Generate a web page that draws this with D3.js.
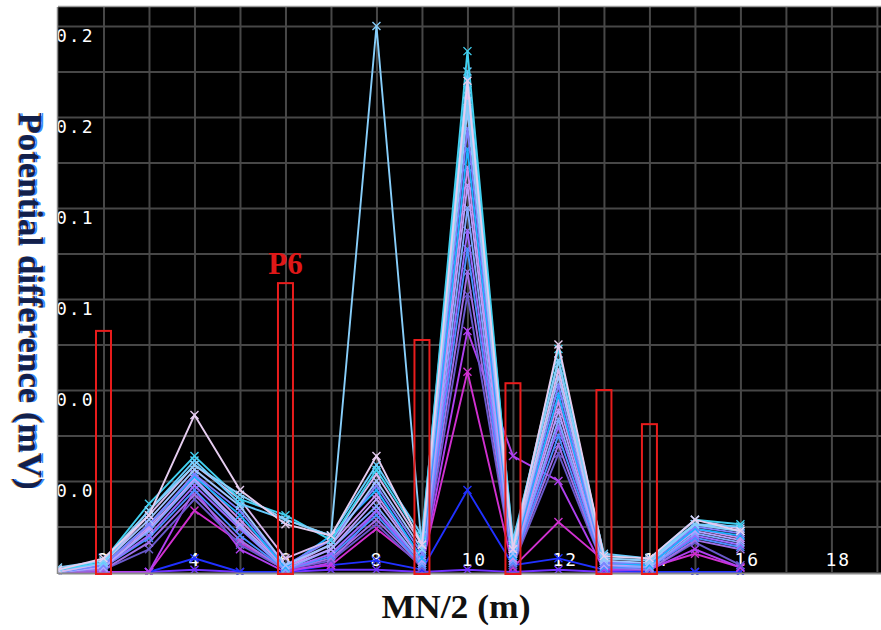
<!DOCTYPE html>
<html>
<head>
<meta charset="utf-8">
<script src="https://cdn.jsdelivr.net/npm/d3@7"></script>
<style>
  body { margin: 0; background: #fff; }
  svg { display: block; }
</style>
</head>
<body>
<svg id="chart" width="881" height="630"></svg>
<script>
// electrode spacing positions MN/2 (m)
var positions = [1, 2, 3, 4, 5, 6, 7, 8, 9, 10, 11, 12, 13, 14, 15, 16];

// potential difference curves (mV), one per sounding
var sLavender = [0.001, 0.006, 0.025, 0.069, 0.036, 0.021, 0.016, 0.051, 0.012, 0.216, 0.010, 0.100, 0.007, 0.006, 0.023, 0.018];
var sSky      = [0.002, 0.005, 0.027, 0.047, 0.034, 0.023, 0.016, 0.240, 0.010, 0.207, 0.012, 0.093, 0.006, 0.005, 0.021, 0.018];
var sCyan     = [0.001, 0.005, 0.030, 0.051, 0.032, 0.025, 0.014, 0.045, 0.014, 0.229, 0.012, 0.098, 0.007, 0.006, 0.023, 0.021];
var sLight    = [0.001, 0.004, 0.027, 0.049, 0.030, 0.023, 0.016, 0.047, 0.016, 0.220, 0.014, 0.093, 0.008, 0.006, 0.021, 0.020];
var sThistle  = [0.000, 0.004, 0.025, 0.047, 0.032, 0.006, 0.014, 0.043, 0.012, 0.212, 0.010, 0.089, 0.006, 0.005, 0.023, 0.019];
var sSteel    = [0.000, 0.004, 0.023, 0.045, 0.029, 0.003, 0.012, 0.040, 0.010, 0.203, 0.008, 0.086, 0.005, 0.004, 0.021, 0.018];
var sSlate    = [0.000, 0.003, 0.021, 0.043, 0.027, 0.003, 0.014, 0.038, 0.008, 0.195, 0.008, 0.082, 0.004, 0.004, 0.020, 0.017];
var sDeep     = [0.000, 0.003, 0.021, 0.042, 0.025, 0.002, 0.016, 0.036, 0.006, 0.186, 0.007, 0.078, 0.004, 0.003, 0.019, 0.016];
var sPlum     = [0.000, 0.003, 0.020, 0.043, 0.023, 0.002, 0.012, 0.034, 0.006, 0.178, 0.006, 0.075, 0.004, 0.003, 0.019, 0.015];
var sLilac    = [0.000, 0.002, 0.019, 0.041, 0.021, 0.002, 0.010, 0.032, 0.005, 0.170, 0.006, 0.071, 0.003, 0.003, 0.018, 0.014];
var sCorn     = [0.000, 0.002, 0.018, 0.040, 0.020, 0.001, 0.010, 0.029, 0.004, 0.160, 0.005, 0.067, 0.003, 0.002, 0.017, 0.013];
var sViolet   = [0.000, 0.002, 0.016, 0.038, 0.019, 0.001, 0.008, 0.027, 0.004, 0.150, 0.005, 0.064, 0.003, 0.002, 0.016, 0.012];
var sAzure    = [0.000, 0.002, 0.015, 0.036, 0.016, 0.001, 0.007, 0.025, 0.003, 0.142, 0.004, 0.060, 0.002, 0.002, 0.015, 0.011];
var sAmethyst = [0.000, 0.001, 0.013, 0.034, 0.014, 0.001, 0.006, 0.023, 0.003, 0.132, 0.004, 0.056, 0.002, 0.001, 0.014, 0.010];
var sIndigo   = [0.000, 0.001, 0.010, 0.032, 0.012, 0.001, 0.005, 0.021, 0.002, 0.122, 0.003, 0.052, 0.002, 0.001, 0.013, 0.003];
var sPurple   = [0.000, 0.000, 0.000, 0.036, 0.010, 0.000, 0.004, 0.027, 0.002, 0.106, 0.051, 0.040, 0.001, 0.001, 0.010, 0.002];
var sMagenta  = [0.000, 0.000, 0.000, 0.027, 0.013, 0.001, 0.003, 0.019, 0.003, 0.088, 0.002, 0.022, 0.005, 0.002, 0.008, 0.002];
var sBlue     = [0.000, 0.000, 0.000, 0.006, 0.000, 0.000, 0.003, 0.005, 0.001, 0.036, 0.003, 0.006, 0.001, 0.000, 0.000, 0.000];
var sBase     = [0.000, 0.000, 0.000, 0.001, 0.000, 0.000, 0.001, 0.001, 0.000, 0.001, 0.000, 0.001, 0.000, 0.000, 0.000, 0.000];

// drawn bottom-to-top
var series = [sBase, sBlue, sMagenta, sPurple, sIndigo, sAmethyst, sAzure, sViolet, sCorn, sLilac,
              sPlum, sDeep, sSlate, sSteel, sThistle, sLight, sCyan, sSky, sLavender];
var seriesColors = ['#7030ff', '#2030ff', '#d030d0', '#b040f0', '#6a5acd', '#a070e8', '#4a90ff', '#9b6bff', '#7fa8ff', '#b8a0ff',
                    '#c890f0', '#1eb0ff', '#8080ff', '#a0c4ff', '#d8b8f0', '#66ccff', '#40d0f0', '#87cefa', '#e6cdf0'];

// highlighted anomaly boxes
var boxX = [2, 6, 9, 11, 13, 14];
var boxTop = [0.106, 0.127, 0.102, 0.083, 0.080, 0.065];

// axis ticks
var xTicks = [2, 4, 6, 8, 10, 12, 14, 16, 18];
var yTicks = [0.04, 0.08, 0.12, 0.16, 0.20, 0.24];
var yTickLabels = ['0.0', '0.0', '0.1', '0.1', '0.2', '0.2'];

var LEFT = 58, RIGHT = 881, TOP = 7, BOTTOM = 572;

var svg = d3.select('#chart');

var x = d3.scaleLinear().domain([1, 19.09]).range([LEFT, RIGHT]);
var y = d3.scaleLinear().domain([0, 0.2484]).range([BOTTOM, TOP]);

svg.append('defs').append('clipPath').attr('id', 'plotclip')
  .append('rect')
  .attr('x', LEFT).attr('y', TOP)
  .attr('width', RIGHT - LEFT).attr('height', BOTTOM - TOP + 3);

// black plot area
svg.append('rect')
  .attr('x', LEFT).attr('y', TOP)
  .attr('width', RIGHT - LEFT).attr('height', BOTTOM - TOP + 2)
  .attr('fill', '#000');

var plot = svg.append('g').attr('clip-path', 'url(#plotclip)');

// grid
plot.append('g')
  .attr('transform', 'translate(0,' + BOTTOM + ')')
  .call(d3.axisBottom(x).tickValues(d3.range(2, 20)).tickSize(-(BOTTOM - TOP)).tickFormat(''))
  .call(g => g.select('.domain').remove())
  .call(g => g.selectAll('line').attr('stroke', '#474747').attr('stroke-width', 2));

plot.append('g')
  .attr('transform', 'translate(' + LEFT + ',0)')
  .call(d3.axisLeft(y).tickValues(d3.range(1, 13).map(d => d * 0.02)).tickSize(-(RIGHT - LEFT)).tickFormat(''))
  .call(g => g.select('.domain').remove())
  .call(g => g.selectAll('line').attr('stroke', '#474747').attr('stroke-width', 2));

// tick labels inside the plot
plot.selectAll('.ylab')
  .data(yTicks)
  .enter().append('text')
  .attr('class', 'ylab')
  .attr('x', LEFT - 2)
  .attr('y', d => y(d) + 16)
  .attr('fill', '#fff')
  .attr('font-family', 'DejaVu Sans Mono, monospace')
  .attr('font-size', '18px')
  .attr('letter-spacing', '2px')
  .text((d, i) => yTickLabels[i]);

plot.selectAll('.xlab')
  .data(xTicks)
  .enter().append('text')
  .attr('class', 'xlab')
  .attr('x', d => x(d) - 6)
  .attr('y', BOTTOM - 6)
  .attr('fill', '#fff')
  .attr('font-family', 'DejaVu Sans Mono, monospace')
  .attr('font-size', '18px')
  .attr('letter-spacing', '2px')
  .text(d => d);

// curves
var line = d3.line()
  .x((d, i) => x(positions[i]))
  .y(d => y(d));

series.forEach(function(s, k) {
  var g = plot.append('g');
  g.append('path')
    .attr('d', line(s))
    .attr('fill', 'none')
    .attr('stroke', seriesColors[k])
    .attr('stroke-width', 1.9);
  g.selectAll('path.mk')
    .data(s)
    .enter().append('path')
    .attr('class', 'mk')
    .attr('transform', (d, i) => 'translate(' + x(positions[i]) + ',' + y(d) + ')')
    .attr('d', 'M-4,-4L4,4M-4,4L4,-4')
    .attr('stroke', seriesColors[k])
    .attr('stroke-width', 1.4);
});

// frame
svg.append('line').attr('x1', LEFT).attr('x2', RIGHT).attr('y1', TOP - 0.5).attr('y2', TOP - 0.5)
  .attr('stroke', '#9a9a9a').attr('stroke-width', 1.5);
svg.append('line').attr('x1', LEFT).attr('x2', RIGHT).attr('y1', BOTTOM + 1.5).attr('y2', BOTTOM + 1.5)
  .attr('stroke', '#8a8a8a').attr('stroke-width', 2);
svg.append('line').attr('x1', LEFT - 0.5).attr('x2', LEFT - 0.5).attr('y1', TOP).attr('y2', BOTTOM + 2)
  .attr('stroke', '#8a8a8a').attr('stroke-width', 1.5);

// red anomaly boxes
svg.selectAll('.box')
  .data(boxX)
  .enter().append('rect')
  .attr('class', 'box')
  .attr('x', d => x(d) - 7.5)
  .attr('y', (d, i) => y(boxTop[i]))
  .attr('width', 15)
  .attr('height', (d, i) => BOTTOM + 2 - y(boxTop[i]))
  .attr('fill', 'none')
  .attr('stroke', '#e81c1c')
  .attr('stroke-width', 2);

svg.append('text')
  .attr('x', x(6))
  .attr('y', y(boxTop[1]) - 9)
  .attr('text-anchor', 'middle')
  .attr('font-family', 'Liberation Serif, serif')
  .attr('font-weight', 'bold')
  .attr('font-size', '31px')
  .attr('fill', '#e01818')
  .text('P6');

// axis titles
function yTitle(dx, color) {
  svg.append('text')
    .attr('transform', 'translate(' + (19 + dx) + ',' + 301 + ') rotate(90)')
    .attr('text-anchor', 'middle')
    .attr('font-family', 'Liberation Serif, serif')
    .attr('font-weight', 'bold')
    .attr('font-size', '34px')
    .attr('textLength', 377)
    .attr('lengthAdjust', 'spacingAndGlyphs')
    .attr('fill', color)
    .text('Potential difference (mV)');
}
yTitle(-1.5, '#e0a040');
yTitle(1.5, '#3a8cff');
yTitle(0, '#13204a');

svg.append('text')
  .attr('x', 456)
  .attr('y', 618)
  .attr('text-anchor', 'middle')
  .attr('font-family', 'Liberation Serif, serif')
  .attr('font-weight', 'bold')
  .attr('font-size', '34px')
  .attr('textLength', 149)
  .attr('lengthAdjust', 'spacingAndGlyphs')
  .attr('fill', '#111')
  .text('MN/2 (m)');
</script>
</body>
</html>
